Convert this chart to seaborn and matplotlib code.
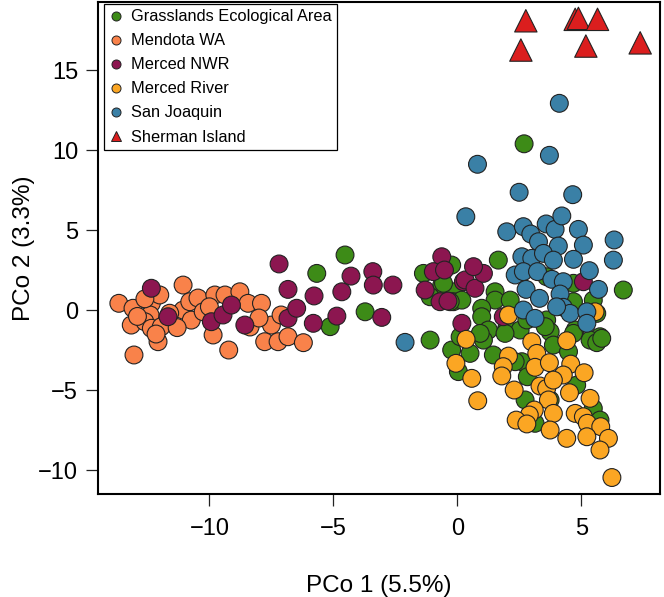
import matplotlib
matplotlib.use("Agg")
import matplotlib.pyplot as plt
import pandas as pd
import seaborn as sns
from matplotlib.lines import Line2D

SITES = [
    "Grasslands Ecological Area",
    "Mendota WA",
    "Merced NWR",
    "Merced River",
    "San Joaquin",
    "Sherman Island",
]
COLORS = ["#3d8b17", "#f9824a", "#8c1650", "#fba623", "#3a80a6", "#db1e1e"]

grasslands_x = [-4.53, -5.67, -5.13, -3.72, -1.1, -1.37, -0.23, -0.63, -0.16, -1.1, -0.16, -0.23, 0.11,
                2.69, 1.65, 6.69, -0.56, 1.52, 1.52, 0.98, 0.98, 1.25, 1.99, 2.13, 2.53, 3.6, 3.6, 4.68,
                4.68, 5.48, 5.62, 5.75, 3.74, 4.75, 0.18, -0.29, 2.8, 0.04, 0.51, 1.05, 1.45, 1.92, 2.6,
                2.82, 2.73, 3.13, 3.74, 3.87, 4.48, 4.81, 5.35, 5.62, 5.82, 5.48, 5.75, 4.68, 3.54, 0.92, 2.33]
grasslands_y = [3.44, 2.29, -1.04, -0.11, -1.88, 2.29, 2.81, 1.56, 1.14, 0.83, 0.52, -2.5, -1.67,
                10.39, 3.12, 1.25, 1.67, 1.14, 0.62, 0.11, -0.42, -1.25, -1.14, 0.62, -1.25, -0.62, 2.08, 1.67,
                0.52, 0.62, -0.21, -1.67, -1.36, -1.25, 0.62, 0.52, -0.62, -3.85, -2.71, -1.88, -2.81, -1.46, -3.23,
                -4.17, -5.62, -7.08, -5.62, -2.19, -2.6, -4.69, -1.88, -2.04, -1.77, -6.15, -6.88, -1.46, -1.04, -1.46, -3.23]

mendota_x = [-13.65, -13.08, -12.34, -12.0, -12.39, -11.06, -13.15, -12.6, -12.34, -11.94, -12.07, -13.04,
             -11.06, -10.79, -10.46, -10.73, -10.25, -9.78, -9.37, -8.77, -8.44, -7.9, -9.85, -9.22, -8.36,
             -7.5, -7.77, -7.23, -6.83, -7.11, -6.21, -12.6, -12.15, -11.6, -12.9, -11.3, -10.0, -8.0]
mendota_y = [0.42, 0.11, 0.42, 0.94, -0.31, 1.56, -0.94, -0.73, -1.14, -1.04, -1.98, -2.81,
             0.0, 0.52, 0.75, -0.63, -0.11, 0.94, 0.94, 1.14, 0.42, 0.42, -1.56, -2.5, -1.06,
             -0.94, -1.98, -1.98, -1.67, -0.31, -2.04, 0.7, -1.5, -0.2, -0.4, -1.1, 0.2, -0.5]

merced_nwr_x = [-12.34, -11.67, -9.92, -9.45, -9.11, -8.57, -7.19, -6.83, -6.83, -6.48, -5.78, -5.81,
                -4.86, -4.66, -4.29, -3.41, -3.39, -2.6, -3.05, -0.63, -0.97, -0.52, -1.3, -0.7, -0.38,
                0.24, 0.18, 0.31, 0.71, 1.05, 0.65, 5.08, 1.85]
merced_nwr_y = [1.36, -0.42, -0.73, -0.31, 0.31, -0.94, 2.88, 1.29, -0.52, 0.11, 0.88, -0.83,
                -0.38, 1.14, 2.12, 2.4, 1.56, 1.56, -0.46, 3.33, 2.4, 2.5, 1.25, 0.52, 0.56,
                1.77, -0.83, 1.88, 1.36, 2.29, 2.71, 1.77, -0.42]

merced_river_x = [2.06, 5.55, 0.35, -0.06, 0.58, 0.82, 3.0, 4.41, 2.06, 1.85, 1.79, 3.2, 3.13, 3.71, 4.57,
                  5.11, 4.27, 2.29, 3.33, 3.6, 3.87, 4.52, 3.67, 5.35, 3.1, 2.9, 3.87, 2.37, 2.8, 4.75,
                  5.08, 5.24, 5.78, 3.74, 4.41, 5.22, 6.09, 5.75, 6.23]
merced_river_y = [-0.31, -0.11, -1.83, -3.33, -4.27, -5.67, -1.98, -1.92, -2.88, -3.54, -4.12, -2.71, -3.58,
                  -3.29, -3.38, -3.92, -4.06, -5.0, -4.75, -4.9, -4.38, -5.17, -5.62, -5.52, -6.25, -6.56,
                  -6.46, -6.88, -7.12, -6.46, -6.67, -7.08, -7.29, -7.5, -8.02, -7.92, -8.02, -8.75, -10.47]

san_joaquin_x = [4.11, 3.71, 0.81, 2.49, 4.65, 0.34, 1.99, 2.66, 3.58, 3.94, 4.21, 4.88, 2.96, 6.32, 3.27,
                 4.07, 5.08, 6.29, 2.6, 3.0, 3.47, 3.87, 4.68, 2.33, 2.66, 3.23, 3.81, 4.27, 5.32, 5.69,
                 2.77, 3.31, 4.14, 2.66, 3.13, 4.27, 4.54, 5.22, 5.22, -2.11, 4.0]
san_joaquin_y = [12.92, 9.67, 9.11, 7.36, 7.21, 5.83, 4.89, 5.21, 5.38, 5.04, 5.88, 5.04, 4.75, 4.38, 4.27,
                 4.0, 4.06, 3.12, 3.33, 3.23, 3.54, 3.12, 3.17, 2.19, 2.4, 2.4, 1.92, 1.77, 2.46, 1.29,
                 1.29, 0.73, 1.0, 0.0, -0.52, 0.17, -0.21, -0.11, -0.83, -2.02, 0.2]

sherman_x = [2.76, 2.56, 4.75, 4.88, 5.65, 5.18, 7.37]
sherman_y = [18.08, 16.25, 18.17, 18.23, 18.17, 16.5, 16.7]

XS = [grasslands_x, mendota_x, merced_nwr_x, merced_river_x, san_joaquin_x, sherman_x]
YS = [grasslands_y, mendota_y, merced_nwr_y, merced_river_y, san_joaquin_y, sherman_y]


def build_frame() -> pd.DataFrame:
    frames = []
    for site, xs, ys in zip(SITES, XS, YS):
        frames.append(pd.DataFrame({"pco1": xs, "pco2": ys, "site": site}))
    return pd.concat(frames, ignore_index=True)


def main() -> None:
    sns.set_style("ticks")
    plt.rcParams["font.family"] = ["Liberation Sans", "DejaVu Sans"]
    plt.rcParams["text.color"] = "black"
    plt.rcParams["axes.labelcolor"] = "black"
    plt.rcParams["xtick.color"] = "black"
    plt.rcParams["ytick.color"] = "black"

    df = build_frame()
    palette = dict(zip(SITES, COLORS))
    markers = {s: ("^" if s == "Sherman Island" else "o") for s in SITES}
    sizes = {s: (260 if s == "Sherman Island" else 165) for s in SITES}

    fig = plt.figure(figsize=(6.64, 5.97), dpi=100)
    ax = fig.add_axes([0.148, 0.1725, 0.846, 0.8246])
    sns.scatterplot(
        data=df, x="pco1", y="pco2", hue="site", style="site", size="site",
        hue_order=SITES, style_order=SITES, size_order=SITES,
        palette=palette, markers=markers, sizes=sizes,
        edgecolor="#222222", linewidth=0.8, alpha=1, legend=False, ax=ax,
    )

    ax.set_xlim(-14.48, 8.17)
    ax.set_ylim(-11.5, 19.27)
    ax.set_xticks([-10, -5, 0, 5])
    ax.set_yticks([-10, -5, 0, 5, 10, 15])
    ax.tick_params(axis="both", direction="out", length=8.5, width=0.9, labelsize=17,
                   color="#222222", labelcolor="black")
    ax.tick_params(axis="x", pad=9)
    ax.tick_params(axis="y", pad=6)
    for spine in ax.spines.values():
        spine.set_visible(True)
        spine.set_linewidth(1.5)
        spine.set_color("black")

    ax.set_xlabel("PCo 1 (5.5%)", fontsize=17.5, color="black")
    ax.set_ylabel("PCo 2 (3.3%)", fontsize=17.5, color="black")
    ax.xaxis.set_label_coords(0.5, -0.165)
    ax.yaxis.set_label_coords(-0.112, 0.5)

    handles = [
        Line2D([0], [0], marker=markers[s], linestyle="none", markerfacecolor=palette[s],
               markeredgecolor="#222222", markeredgewidth=0.7,
               markersize=(6.5 if s != "Sherman Island" else 7.5))
        for s in SITES
    ]
    leg = ax.legend(
        handles, SITES, loc="upper left", bbox_to_anchor=(0.01, 0.996), borderaxespad=0,
        fontsize=11.8, frameon=True, fancybox=False, edgecolor="black", framealpha=1,
        handlelength=0.8, handletextpad=0.5, labelspacing=0.55, borderpad=0.35,
    )
    leg.get_frame().set_linewidth(0.9)

    fig.savefig("out.png", dpi=100)
    plt.close(fig)


if __name__ == "__main__":
    main()
